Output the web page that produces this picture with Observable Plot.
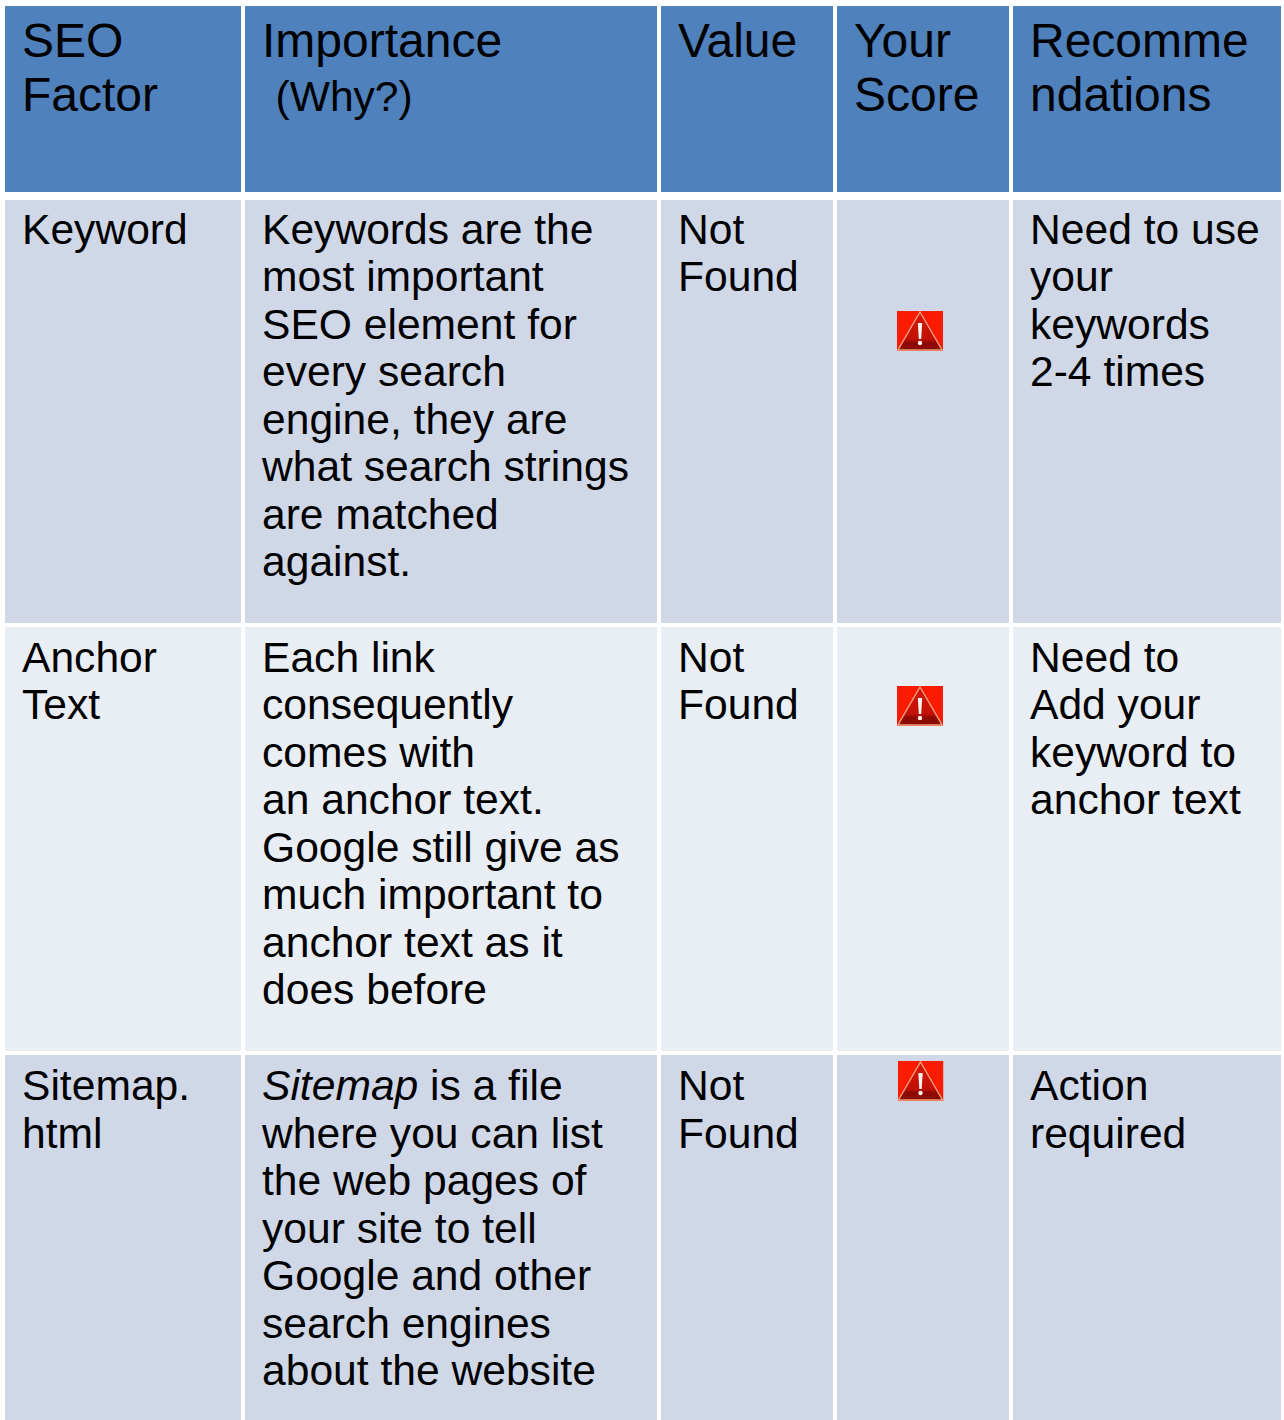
<!DOCTYPE html>
<html><head><meta charset="utf-8">
<script src="https://cdn.jsdelivr.net/npm/d3@7"></script>
<script src="https://cdn.jsdelivr.net/npm/@observablehq/plot@0.6"></script>
<style>html,body{margin:0;padding:0;background:#fff}svg{display:block}</style>
</head><body><div id="chart"></div>
<script>
const colEdges = [[5,241],[245,657],[661,833],[837,1009],[1013,1281]];
const rowEdges = [[6,192],[200,623],[627,1051],[1055,1420]];
const rowFills = ["#4f81bd","#d0d8e8","#e9edf4","#d0d8e8"];
const rowTextTop = [9.6,10.6,11];
const headers = ["SEO\nFactor","Importance","Value","Your\nScore","Recomme\nndations"];
const factors = ["Keyword","Anchor\nText","Sitemap.\nhtml"];
const importance = [
 "Keywords are the\nmost important\nSEO element for\nevery search\nengine, they are\nwhat search strings\nare matched\nagainst.",
 "Each link\nconsequently\ncomes with\nan anchor text.\nGoogle still give as\nmuch important to\nanchor text as it\ndoes before",
 "\nwhere you can list\nthe web pages of\nyour site to tell\nGoogle and other\nsearch engines\nabout the website"
];
const values = ["Not\nFound","Not\nFound","Not\nFound"];
const recommendations = ["Need to use\nyour\nkeywords\n2-4 times","Need to\nAdd your\nkeyword to\nanchor text","Action\nrequired"];
const iconCentres = [[919.5,330.5],[919.5,705.5],[920,1080.5]];

const icon = "data:image/svg+xml," + encodeURIComponent(`<svg xmlns="http://www.w3.org/2000/svg" viewBox="0 0 46 40" preserveAspectRatio="none"><defs><linearGradient id="g" x1="0" y1="0" x2="0" y2="1"><stop offset="0" stop-color="#d81608"/><stop offset=".72" stop-color="#c01006"/><stop offset=".8" stop-color="#8e0a02"/><stop offset="1" stop-color="#8a0a02"/></linearGradient></defs><rect width="46" height="40" fill="#fb1c00"/><path d="M23 1 L45 39 H1 Z" fill="url(#g)" stroke="#eea080" stroke-width="1.4"/><path d="M20.8 12 H25.2 L24.2 28 H21.8 Z" fill="#fff5f0"/><circle cx="23" cy="32" r="2.2" fill="#fff5f0"/></svg>`);

const cells = rowEdges.flatMap(([y1,y2],r)=>colEdges.map(([x1,x2])=>({x1,x2,y1,y2,fill:rowFills[r]})));
const pad = 16.5;
const headerTexts = headers.map((t,c)=>({t,x:colEdges[c][0]+pad,y:rowEdges[0][0]+12.3}));
const bodyTexts = [factors,importance,values,null,recommendations].flatMap((col,c)=>
  col ? col.map((t,r)=>({t,x:colEdges[c][0]+pad,y:rowEdges[r+1][0]+rowTextTop[r]})) : []);
const why = [{t:"(Why?)",x:275,y:rowEdges[0][0]+74.5}];
const sitemapItalic = [{t:"Sitemap",x:colEdges[1][0]+pad,y:rowEdges[3][0]+14.5}];
const sitemapRest = [{t:"is a file",x:429.5,y:rowEdges[3][0]+14.5}];
const font = "'Liberation Sans', Arial, sans-serif";
const txt = (d,size,lh,extra={}) => Plot.text(d,{x:"x",y:"y",text:"t",textAnchor:"start",lineAnchor:"top",
  fontSize:size,lineHeight:lh,fill:"#000",fontFamily:font,...extra});

const chart = Plot.plot({
  width:1284,height:1420,margin:0,
  style:{background:"#fff",fontFamily:font},
  x:{type:"linear",domain:[0,1284],range:[0,1284],axis:null},
  y:{type:"linear",domain:[0,1420],range:[0,1420],axis:null},
  marks:[
    Plot.rect(cells,{x1:"x1",x2:"x2",y1:"y1",y2:"y2",fill:"fill"}),
    txt(headerTexts,48,54/48),
    txt(why,42.6,1),
    txt(bodyTexts,42.6,47.5/42.6),
    txt(sitemapItalic,42.6,1,{fontStyle:"italic"}),
    txt(sitemapRest,42.6,1),
    Plot.image(iconCentres,{x:d=>d[0],y:d=>d[1],width:46,height:40,src:()=>icon,preserveAspectRatio:"none"})
  ]
});
document.getElementById("chart").append(chart);
</script></body></html>
